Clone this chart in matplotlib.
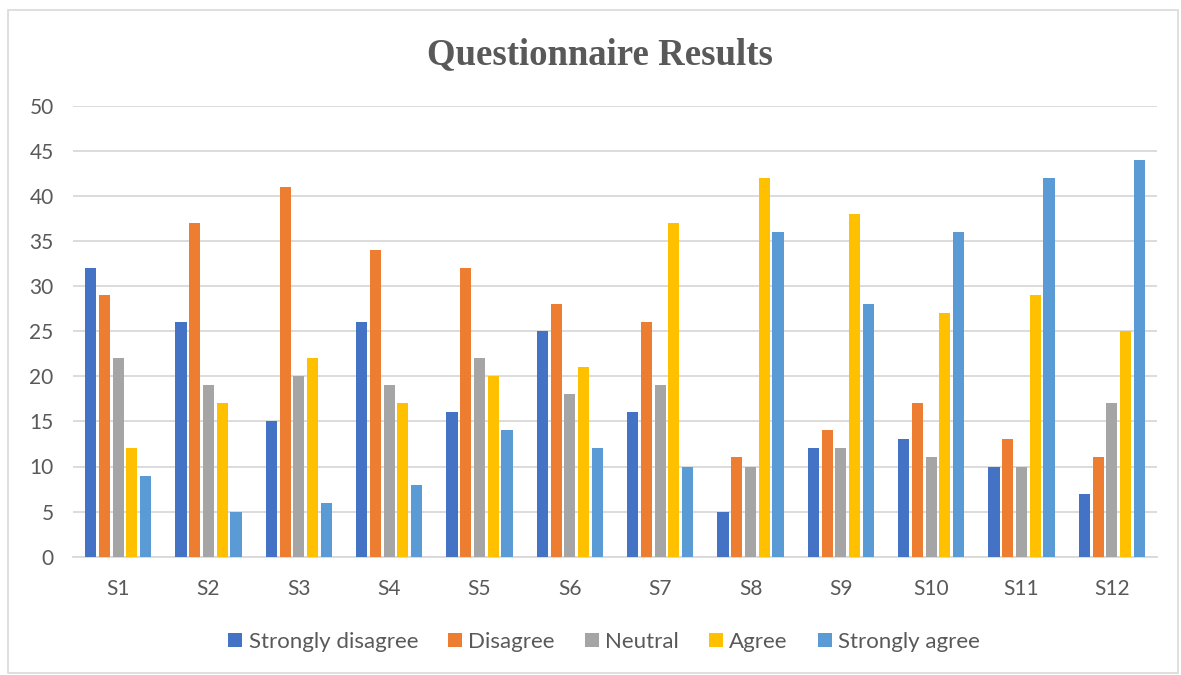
import matplotlib
matplotlib.use("Agg")
import matplotlib.pyplot as plt
from matplotlib.patches import Rectangle
import numpy as np

categories = ["S1", "S2", "S3", "S4", "S5", "S6", "S7", "S8", "S9", "S10", "S11", "S12"]
series_names = ["Strongly disagree", "Disagree", "Neutral", "Agree", "Strongly agree"]
strongly_disagree = [32, 26, 15, 26, 16, 25, 16, 5, 12, 13, 10, 7]
disagree = [29, 37, 41, 34, 32, 28, 26, 11, 14, 17, 13, 11]
neutral = [22, 19, 20, 19, 22, 18, 19, 10, 12, 11, 10, 17]
agree = [12, 17, 22, 17, 20, 21, 37, 42, 38, 27, 29, 25]
strongly_agree = [9, 5, 6, 8, 14, 12, 10, 36, 28, 36, 42, 44]
y_ticks = [0, 5, 10, 15, 20, 25, 30, 35, 40, 45, 50]

colors = ["#4472C4", "#ED7D31", "#A5A5A5", "#FFC000", "#5B9BD5"]
text_color = "#595959"
grid_color = "#D9D9D9"

W, H = 1181, 675
fig = plt.figure(figsize=(W / 100, H / 100), dpi=100)
ax = fig.add_axes([73 / W, 1 - 556.7 / H, (1157 - 73) / W, (556.7 - 105.7) / H])

x = np.arange(len(categories))
pitch = 0.152
bw = 0.124
data = [strongly_disagree, disagree, neutral, agree, strongly_agree]
for i, (name, vals, c) in enumerate(zip(series_names, data, colors)):
    ax.bar(x + (i - 2) * pitch, vals, width=bw, color=c, label=name, zorder=3)

ax.set_xlim(-0.5, len(categories) - 0.5)
ax.set_ylim(0, 50)
ax.set_yticks(y_ticks)
ax.set_xticks(x)
ax.set_xticklabels(categories)
font = "Lato"
for lab in ax.get_yticklabels() + ax.get_xticklabels():
    lab.set_fontfamily(font)
    lab.set_fontsize(15)
    lab.set_color(text_color)
ax.tick_params(axis="both", length=0)
ax.tick_params(axis="y", pad=14)
ax.tick_params(axis="x", pad=16)
ax.yaxis.grid(True, color=grid_color, linewidth=1.3, zorder=0)
for s in ["top", "right", "left"]:
    ax.spines[s].set_visible(False)
ax.spines["bottom"].set_color(grid_color)
ax.spines["bottom"].set_linewidth(1.3)

fig.text(600 / W, 1 - 55 / H, "Questionnaire Results", ha="center", va="center",
         fontfamily="Liberation Serif", fontweight="bold", fontsize=26.5, color=text_color)

leg = fig.legend(loc="center", bbox_to_anchor=(604 / W, 1 - 642 / H), ncol=5, frameon=False,
                 prop={"family": font, "size": 16}, handlelength=0.63, handleheight=0.63,
                 handletextpad=0.28, columnspacing=1.35)
for t in leg.get_texts():
    t.set_color(text_color)

fig.patches.append(Rectangle((8 / W, 1 - 673 / H), (1178 - 8) / W, (673 - 10) / H,
                             transform=fig.transFigure, fill=False, edgecolor=grid_color, linewidth=1.2))

fig.savefig("out.png", dpi=100)
